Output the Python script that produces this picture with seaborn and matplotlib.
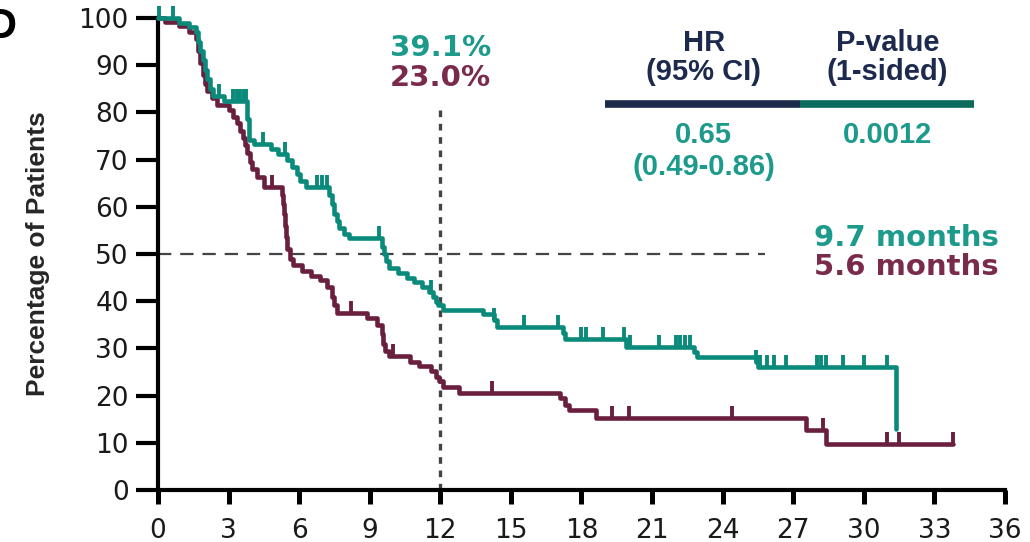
import numpy as np
import matplotlib
matplotlib.use('Agg')
import matplotlib.pyplot as plt
import seaborn as sns
from matplotlib.path import Path
from matplotlib import font_manager

# Kaplan-Meier steps (months, % patients)
treat_time = [0, 0.9, 1.3, 1.6, 1.72, 1.8, 1.9, 2.0, 2.1, 2.2, 2.35, 2.8, 3.8, 3.85, 4.1, 4.8,
              5.1, 5.5, 5.7, 5.9, 6.05, 6.3, 7.25, 7.4, 7.5, 7.6, 7.7, 7.9, 8.1, 9.5, 9.6, 9.7,
              9.8, 10.2, 10.6, 10.9, 11.2, 11.5, 11.7, 11.8, 11.9, 12.1, 13.8, 14.3, 14.4, 17.2,
              17.3, 19.9, 22.8, 22.9, 25.4, 25.5, 31.35]
treat_surv = [100, 99, 98, 97, 95, 93, 91, 89, 87, 85, 83.5, 82.5, 78.5, 74.2, 73.3, 72.3,
              71.2, 70, 68.5, 67, 65.5, 64.3, 62.5, 60.5, 58.5, 57, 55.5, 54.3, 53.3, 51.5, 50, 48.5,
              47, 46, 45, 44, 43, 42, 40.8, 39.8, 39.1, 38.2, 37.2, 36, 34.5, 33.3,
              32, 30.4, 29.3, 28.2, 27.2, 26, 13]
treat_cens = [0.05, 0.65, 2.6, 3.2, 3.35, 3.5, 3.65, 3.75, 4.45, 5.4, 6.75, 6.97, 7.2, 9.4,
              11.6, 14.3, 15.55, 17.0, 18.0, 18.2, 18.9, 19.8, 20.05, 21.3, 22.0, 22.2, 22.4,
              22.6, 25.4, 25.6, 25.9, 26.2, 26.7, 28.0, 28.2, 28.4, 29.1, 30.0, 31.0]

ctrl_time = [0, 0.3, 0.9, 1.3, 1.6, 1.7, 1.8, 1.9, 2.0, 2.1, 2.3, 2.5, 3.0, 3.2, 3.35, 3.5,
             3.6, 3.7, 3.8, 3.9, 4.0, 4.2, 4.5, 5.25, 5.3, 5.35, 5.4, 5.45, 5.5, 5.6, 5.75, 6.1,
             6.5, 6.9, 7.2, 7.4, 7.5, 7.6, 8.9, 9.3, 9.5, 9.55, 9.65, 9.8, 10.7, 11.1, 11.6,
             11.8, 11.95, 12.1, 12.8, 17.1, 17.3, 17.45, 18.6, 27.55, 28.4, 33.8]
ctrl_surv = [100, 99.2, 98.2, 97, 95.5, 93, 90.5, 88, 86, 84.5, 83, 81.6, 80.5, 79, 77.7, 76,
             74.5, 73, 71.5, 69.5, 68, 66.3, 64.2, 62.5, 60.5, 58.5, 56, 53.5, 51, 49, 47.7, 46.5,
             45.4, 44.5, 43, 40.9, 39.2, 37.5, 36.5, 35, 33, 31, 29.5, 28.3, 27.2, 26.2, 25.2,
             23.9, 23.0, 21.8, 20.6, 19.5, 18, 17, 15.2, 12.8, 9.8, 9.8]
ctrl_cens = [4.85, 8.2, 10.0, 14.2, 19.3, 20.0, 24.4, 28.25, 31.0, 31.5, 33.8]

xticks = list(range(0, 37, 3))
yticks = list(range(0, 101, 10))

teal = '#0a8a7a'
maroon = '#6a1f3f'
teal_txt = '#1c9a8c'
maroon_txt = '#7a2b4b'
navy = '#1d2a4d'

sns.set_theme(style='white')
names = {f.name for f in font_manager.fontManager.ttflist}
narrow = 'Liberation Sans Narrow' if 'Liberation Sans Narrow' in names else 'Liberation Sans'
plt.rcParams['font.family'] = ['Liberation Sans', 'DejaVu Sans']

fig = plt.figure(figsize=(10.3, 5.42), dpi=100)
ax = fig.add_axes([0.1534, 0.0959, 0.8223, 0.8709])


def surv_at(times, surv, t):
    i = np.searchsorted(times, t, side='right') - 1
    return surv[i]


# vertical censor tick that rises above the curve
tick_marker = Path([(0, 0), (0, 1)])

for times, surv, cens, c in [(ctrl_time, ctrl_surv, ctrl_cens, maroon),
                             (treat_time, treat_surv, treat_cens, teal)]:
    sns.lineplot(x=times, y=surv, drawstyle='steps-post', estimator=None, sort=False,
                 color=c, lw=3.3, ax=ax, clip_on=False, zorder=3)
    cy = [surv_at(times, surv, t) for t in cens]
    sns.scatterplot(x=cens, y=cy, marker=tick_marker, s=17 ** 2, color=c, edgecolor=c,
                    linewidth=2.8, ax=ax, clip_on=False, zorder=3)

# median and 12-month reference lines
ax.hlines(50, 0, 25.8, colors='#444444', linestyles=(0, (6, 4)), lw=1.6, zorder=1)
ax.vlines(12, 0, 81, colors='#444444', linestyles=(0, (2, 2)), lw=2.4, zorder=1)

ax.set_xlim(0, 36)
ax.set_ylim(0, 100)
ax.set_xticks(xticks)
ax.set_yticks(yticks)
ax.tick_params(axis='y', length=16, width=3, color='black', labelsize=19,
               labelcolor='#1a1a1a', left=True, pad=5)
ax.tick_params(axis='x', length=10, width=3.6, color='black', labelsize=19,
               labelcolor='#1a1a1a', bottom=True, pad=10)
for lab in ax.get_xticklabels() + ax.get_yticklabels():
    lab.set_family('DejaVu Sans')
for s in ['top', 'right']:
    ax.spines[s].set_visible(False)
for s in ['left', 'bottom']:
    ax.spines[s].set_linewidth(3)
    ax.spines[s].set_color('black')
ax.set_xlabel('')
ax.set_ylabel('Percentage of Patients', fontsize=19, fontweight='bold',
              family=[narrow, 'DejaVu Sans'])
ax.yaxis.set_label_coords(-0.128, 0.5)

# landmark and median annotations
ann = dict(fontsize=21, fontweight='bold', family='DejaVu Sans', va='center')
ax.text(12, 93.6, '39.1%', color=teal_txt, ha='center', **ann)
ax.text(12, 87.3, '23.0%', color=maroon_txt, ha='center', **ann)
ax.text(35.75, 53.4, '9.7 months', color=teal_txt, ha='right', **ann)
ax.text(35.75, 47.2, '5.6 months', color=maroon_txt, ha='right', **ann)

# HR / p-value table
tab = dict(fontsize=21, fontweight='bold', ha='center', va='center')
ax.text(23.2, 94.8, 'HR', color=navy, **tab)
ax.text(23.2, 88.6, '(95% CI)', color=navy, **tab)
ax.text(31.0, 94.8, 'P-value', color=navy, **tab)
ax.text(31.0, 88.6, '(1-sided)', color=navy, **tab)
ax.plot([19.0, 27.3], [81.8, 81.8], color=navy, lw=5.5, solid_capstyle='butt', clip_on=False)
ax.plot([27.3, 34.7], [81.8, 81.8], color='#0b6b5c', lw=5.5, solid_capstyle='butt', clip_on=False)
ax.text(23.2, 75.2, '0.65', color=teal_txt, **tab)
ax.text(23.2, 68.4, '(0.49-0.86)', color=teal_txt, **tab)
ax.text(31.0, 75.2, '0.0012', color=teal_txt, **tab)

# cropped panel letter
fig.text(-0.013, 0.95, 'D', fontsize=30, fontweight='bold', color='black', va='center')

plt.savefig('out.png', dpi=100)
